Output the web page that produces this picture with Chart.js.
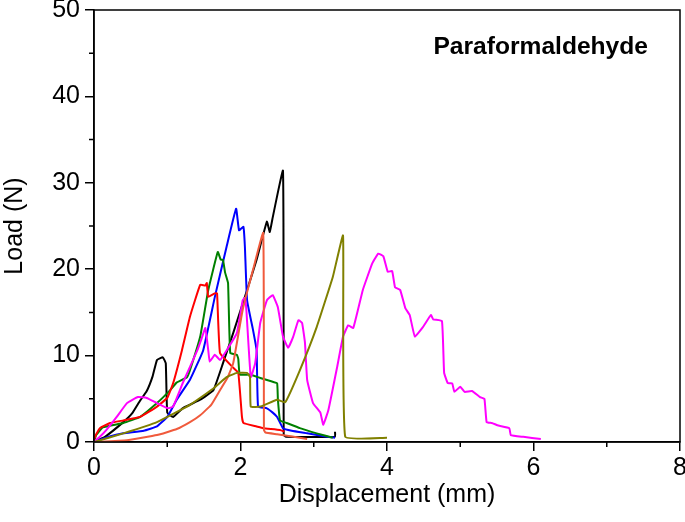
<!DOCTYPE html>
<html>
<head>
<meta charset="utf-8">
<script src="https://cdn.jsdelivr.net/npm/chart.js@4/dist/chart.umd.min.js"></script>
<style>
  html, body { margin: 0; padding: 0; background: #fff; }
  #wrap { width: 685px; height: 522px; }
</style>
</head>
<body>
<div id="wrap"><canvas id="chart"></canvas></div>
<script>
// load-displacement curves (x in mm, y in N)
const blackX = [0, 0.15, 0.4, 0.52, 0.63, 0.72, 0.8, 0.86, 0.94, 0.98, 1.0, 1.08, 1.21, 1.45, 1.63, 1.76, 1.9, 2.09, 2.22, 2.36, 2.4, 2.44, 2.58, 2.59, 2.62, 3.29, 3.29];
const blackY = [0, 0.6, 2.3, 3.3, 4.8, 5.9, 7.6, 9.5, 9.8, 9.1, 3.4, 2.9, 3.9, 4.9, 6.0, 9.1, 12.6, 17.6, 21.1, 25.5, 24.3, 26.0, 31.4, 0.8, 0.6, 0.6, 1.2];

const redX = [0, 0.03, 0.08, 0.22, 0.4, 0.63, 0.86, 1.0, 1.08, 1.2, 1.31, 1.45, 1.52, 1.54, 1.56, 1.65, 1.68, 1.72, 1.9, 1.97, 2.02, 2.04, 2.22, 2.31, 2.54, 2.6];
const redY = [0.3, 0.9, 1.6, 2.2, 2.5, 2.9, 4.1, 5.1, 6.8, 10.6, 14.5, 18.2, 18.1, 18.4, 16.8, 17.2, 17.2, 10.3, 8.6, 8.0, 2.9, 2.2, 1.8, 1.6, 1.4, 1.2];

const greenX = [0, 0.03, 0.12, 0.4, 0.63, 0.86, 1.04, 1.13, 1.27, 1.31, 1.45, 1.56, 1.69, 1.73, 1.76, 1.79, 1.83, 1.86, 1.95, 1.97, 1.99, 2.13, 2.27, 2.43, 2.5, 2.51, 2.54, 2.63, 2.81, 3.04, 3.26];
const greenY = [0, 0.8, 1.7, 2.2, 2.9, 4.5, 6.0, 6.9, 7.5, 8.3, 12.2, 17.6, 22.0, 21.1, 21.1, 19.6, 18.4, 10.3, 10.1, 9.6, 7.8, 7.8, 7.4, 7.0, 6.8, 5.0, 2.5, 2.2, 1.6, 1.0, 0.5];

const blueX = [0, 0.2, 0.4, 0.68, 0.86, 1.0, 1.13, 1.31, 1.49, 1.65, 1.81, 1.94, 1.98, 2.04, 2.06, 2.09, 2.17, 2.22, 2.24, 2.36, 2.44, 2.5, 2.58, 2.7, 2.91, 3.18, 3.29];
const blueY = [0, 0.6, 1.0, 1.3, 1.8, 2.9, 4.9, 7.2, 10.6, 16.8, 22.6, 27.0, 24.5, 24.9, 22.6, 16.4, 13.0, 10.6, 4.1, 3.9, 3.4, 2.9, 1.6, 1.3, 1.0, 0.6, 0.5];

const orangeX = [0, 0.45, 0.86, 1.13, 1.31, 1.45, 1.6, 1.72, 1.82, 1.9, 2.03, 2.17, 2.31, 2.32, 2.34, 2.5, 2.91];
const orangeY = [0, 0.2, 0.8, 1.5, 2.3, 3.1, 4.3, 6.0, 7.4, 9.1, 15.3, 19.9, 24.2, 1.4, 1.1, 0.9, 0.35];

const oliveX = [0, 0.4, 0.86, 1.31, 1.63, 1.81, 1.95, 2.09, 2.13, 2.14, 2.27, 2.5, 2.61, 2.81, 3.04, 3.26, 3.4, 3.43, 4.0];
const oliveY = [0, 1.0, 2.3, 4.3, 6.2, 7.5, 8.0, 8.0, 7.5, 4.1, 4.1, 4.9, 4.6, 8.3, 13.3, 19.1, 23.9, 0.6, 0.5];

const magentaX = [0, 0.08, 0.17, 0.31, 0.45, 0.6, 0.72, 0.86, 1.01, 1.08, 1.21, 1.41, 1.47, 1.52, 1.56, 1.58, 1.65, 1.72, 1.81, 1.95, 2.03, 2.06, 2.08, 2.14, 2.2, 2.27, 2.36, 2.44, 2.51, 2.58, 2.65, 2.72, 2.79, 2.84, 2.88, 2.91, 2.99, 3.09, 3.13, 3.2, 3.32, 3.4, 3.47, 3.54, 3.67, 3.8, 3.88, 3.95, 4.01, 4.07, 4.11, 4.18, 4.25, 4.31, 4.38, 4.49, 4.6, 4.63, 4.75, 4.78, 4.83, 4.89, 4.92, 5.0, 5.06, 5.16, 5.27, 5.33, 5.36, 5.43, 5.52, 5.67, 5.69, 5.86, 6.1];
const magentaY = [0, 0.6, 1.4, 2.9, 4.5, 5.2, 5.1, 4.5, 3.9, 4.1, 6.8, 10.6, 12.0, 13.2, 10.6, 9.3, 10.1, 9.5, 10.6, 12.6, 16.4, 16.7, 15.3, 7.5, 9.1, 13.8, 16.4, 17.0, 15.6, 12.2, 10.9, 12.2, 14.1, 13.8, 11.5, 7.2, 4.5, 3.4, 2.0, 3.7, 8.7, 12.2, 13.5, 13.2, 17.6, 20.7, 21.8, 21.5, 19.7, 19.8, 17.9, 17.6, 15.5, 14.7, 12.2, 13.3, 14.7, 14.2, 14.0, 8.0, 6.8, 6.8, 5.8, 6.4, 5.8, 5.9, 5.2, 5.0, 2.3, 2.2, 1.9, 1.6, 0.8, 0.6, 0.35];

const xMinorTicks = [1, 3, 5, 7];
const yMinorTicks = [5, 15, 25, 35, 45];

function pts(xs, ys) {
  return xs.map((x, i) => ({ x: x, y: ys[i] }));
}

function curve(xs, ys, color) {
  return {
    data: pts(xs, ys),
    showLine: true,
    borderColor: color,
    borderWidth: 2,
    pointRadius: 0,
    tension: 0.1,
    fill: false,
  };
}

const framePlugin = {
  id: "frame",
  afterDraw(chart) {
    const ctx = chart.ctx;
    const a = chart.chartArea;
    const x = chart.scales.x;
    const y = chart.scales.y;
    ctx.save();
    ctx.strokeStyle = "#000";
    ctx.lineWidth = 1.5;
    ctx.strokeRect(a.left, a.top, a.right - a.left, a.bottom - a.top);
    ctx.beginPath();
    xMinorTicks.forEach((v) => {
      const px = x.getPixelForValue(v);
      ctx.moveTo(px, a.bottom);
      ctx.lineTo(px, a.bottom + 5);
    });
    yMinorTicks.forEach((v) => {
      const py = y.getPixelForValue(v);
      ctx.moveTo(a.left, py);
      ctx.lineTo(a.left - 5, py);
    });
    ctx.stroke();
    ctx.fillStyle = "#000";
    ctx.font = "bold 24.6px 'Liberation Sans', Arial, sans-serif";
    ctx.textAlign = "right";
    ctx.textBaseline = "middle";
    ctx.fillText("Paraformaldehyde", a.right - 32, a.top + 37);
    ctx.restore();
  },
};

const tickFont = { family: "'Liberation Sans', Arial, sans-serif", size: 25 };
const titleFont = { family: "'Liberation Sans', Arial, sans-serif", size: 25 };

new Chart(document.getElementById("chart"), {
  type: "scatter",
  data: {
    datasets: [
      curve(oliveX, oliveY, "#808000"),
      curve(orangeX, orangeY, "#f05a3c"),
      curve(magentaX, magentaY, "#ff00ff"),
      curve(redX, redY, "#ff0000"),
      curve(greenX, greenY, "#008000"),
      curve(blueX, blueY, "#0000ff"),
      curve(blackX, blackY, "#000000"),
    ],
  },
  options: {
    responsive: true,
    maintainAspectRatio: false,
    animation: false,
    layout: { padding: { left: 0, top: 10, right: 5, bottom: 0 } },
    plugins: {
      legend: { display: false },
      tooltip: { enabled: false },
    },
    scales: {
      x: {
        type: "linear",
        min: 0,
        max: 8,
        ticks: { stepSize: 2, color: "#000", font: tickFont, padding: 2, maxRotation: 0 },
        grid: { display: true, drawOnChartArea: false, drawTicks: true, tickLength: 9, color: "#000", lineWidth: 1.5 },
        border: { display: true, color: "#000", width: 1.5 },
        title: { display: true, text: "Displacement (mm)", color: "#000", font: titleFont, padding: { top: 0, bottom: 12 } },
        afterFit(scale) {
          scale.height = 80;
          scale.paddingLeft = 0;
          scale.paddingRight = 0;
        },
      },
      y: {
        type: "linear",
        min: 0,
        max: 50,
        ticks: { stepSize: 10, color: "#000", font: tickFont, padding: 5 },
        grid: { display: true, drawOnChartArea: false, drawTicks: true, tickLength: 9, color: "#000", lineWidth: 1.5 },
        border: { display: true, color: "#000", width: 1.5 },
        title: { display: true, text: "Load (N)", color: "#000", font: titleFont, padding: { top: 0, bottom: 0 } },
        afterFit(scale) {
          scale.width = 94;
          scale.paddingTop = 0;
          scale.paddingBottom = 0;
        },
      },
    },
  },
  plugins: [framePlugin],
});
</script>
</body>
</html>
